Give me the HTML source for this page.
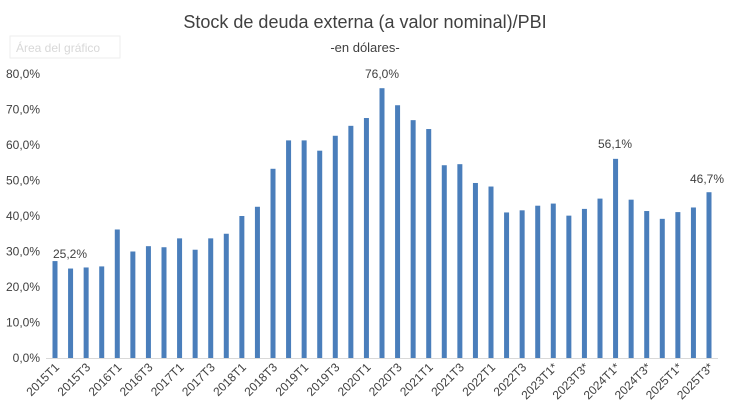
<!DOCTYPE html>
<html><head><meta charset="utf-8"><style>html,body{margin:0;padding:0;background:#fff}svg{display:block}</style></head>
<body>
<svg width="730" height="417" xmlns="http://www.w3.org/2000/svg" font-family="Liberation Sans, sans-serif">
<rect x="0" y="0" width="730" height="417" fill="#fff"/>
<rect x="10" y="36" width="110" height="22" fill="#fff" stroke="#eee"/>
<text x="16" y="52" font-size="12" fill="#d8d8d8">Área del gráfico</text>
<text x="365" y="28" text-anchor="middle" font-size="18" fill="#404040">Stock de deuda externa (a valor nominal)/PBI</text>
<text x="365" y="52" text-anchor="middle" font-size="13" fill="#404040">-en dólares-</text>
<g font-size="12" fill="#404040" text-anchor="end" id="y"></g>
<line x1="46" y1="358.5" x2="718" y2="358.5" stroke="#d9d9d9" stroke-width="1"/>
<g id="bars" fill="#4a7ebb"></g>
<g id="xl" font-size="12" fill="#404040" text-anchor="end"></g>
<g font-size="12" fill="#404040" text-anchor="middle">
<text x="70" y="258">25,2%</text>
<text x="382" y="78">76,0%</text>
<text x="615" y="148">56,1%</text>
<text x="707" y="183">46,7%</text>
</g>
<script>
var v=[27.3,25.2,25.5,25.8,36.2,30.0,31.5,31.2,33.7,30.5,33.7,35.0,40.0,42.6,53.3,61.3,61.3,58.4,62.6,65.4,67.6,76.0,71.2,67.0,64.5,54.3,54.6,49.3,48.3,41.0,41.6,42.9,43.5,40.1,42.0,44.9,56.1,44.6,41.4,39.2,41.1,42.4,46.7];
var ns="http://www.w3.org/2000/svg",b=document.getElementById('bars'),xl=document.getElementById('xl'),y=document.getElementById('y');
var y0=358,k=3.55,x0=55,dx=(709-55)/42;
for(var i=0;i<=8;i++){var t=document.createElementNS(ns,'text');t.setAttribute('x',40);t.setAttribute('y',y0-i*35.5+4);t.textContent=(i*10)+',0%';y.appendChild(t);}
v.forEach(function(val,i){var r=document.createElementNS(ns,'rect');var cx=x0+i*dx;r.setAttribute('x',cx-2.5);r.setAttribute('width',5);r.setAttribute('y',y0-val*k);r.setAttribute('height',val*k);b.appendChild(r);
if(i%2==0){var yr=2015+Math.floor(i/4),q=(i%4)+1;var lab=yr+'T'+q+(yr>=2023?'*':'');var t=document.createElementNS(ns,'text');t.setAttribute('transform','translate('+(cx+5)+',368) rotate(-45)');t.textContent=lab;xl.appendChild(t);}});
</script>
</svg>
</body></html>
